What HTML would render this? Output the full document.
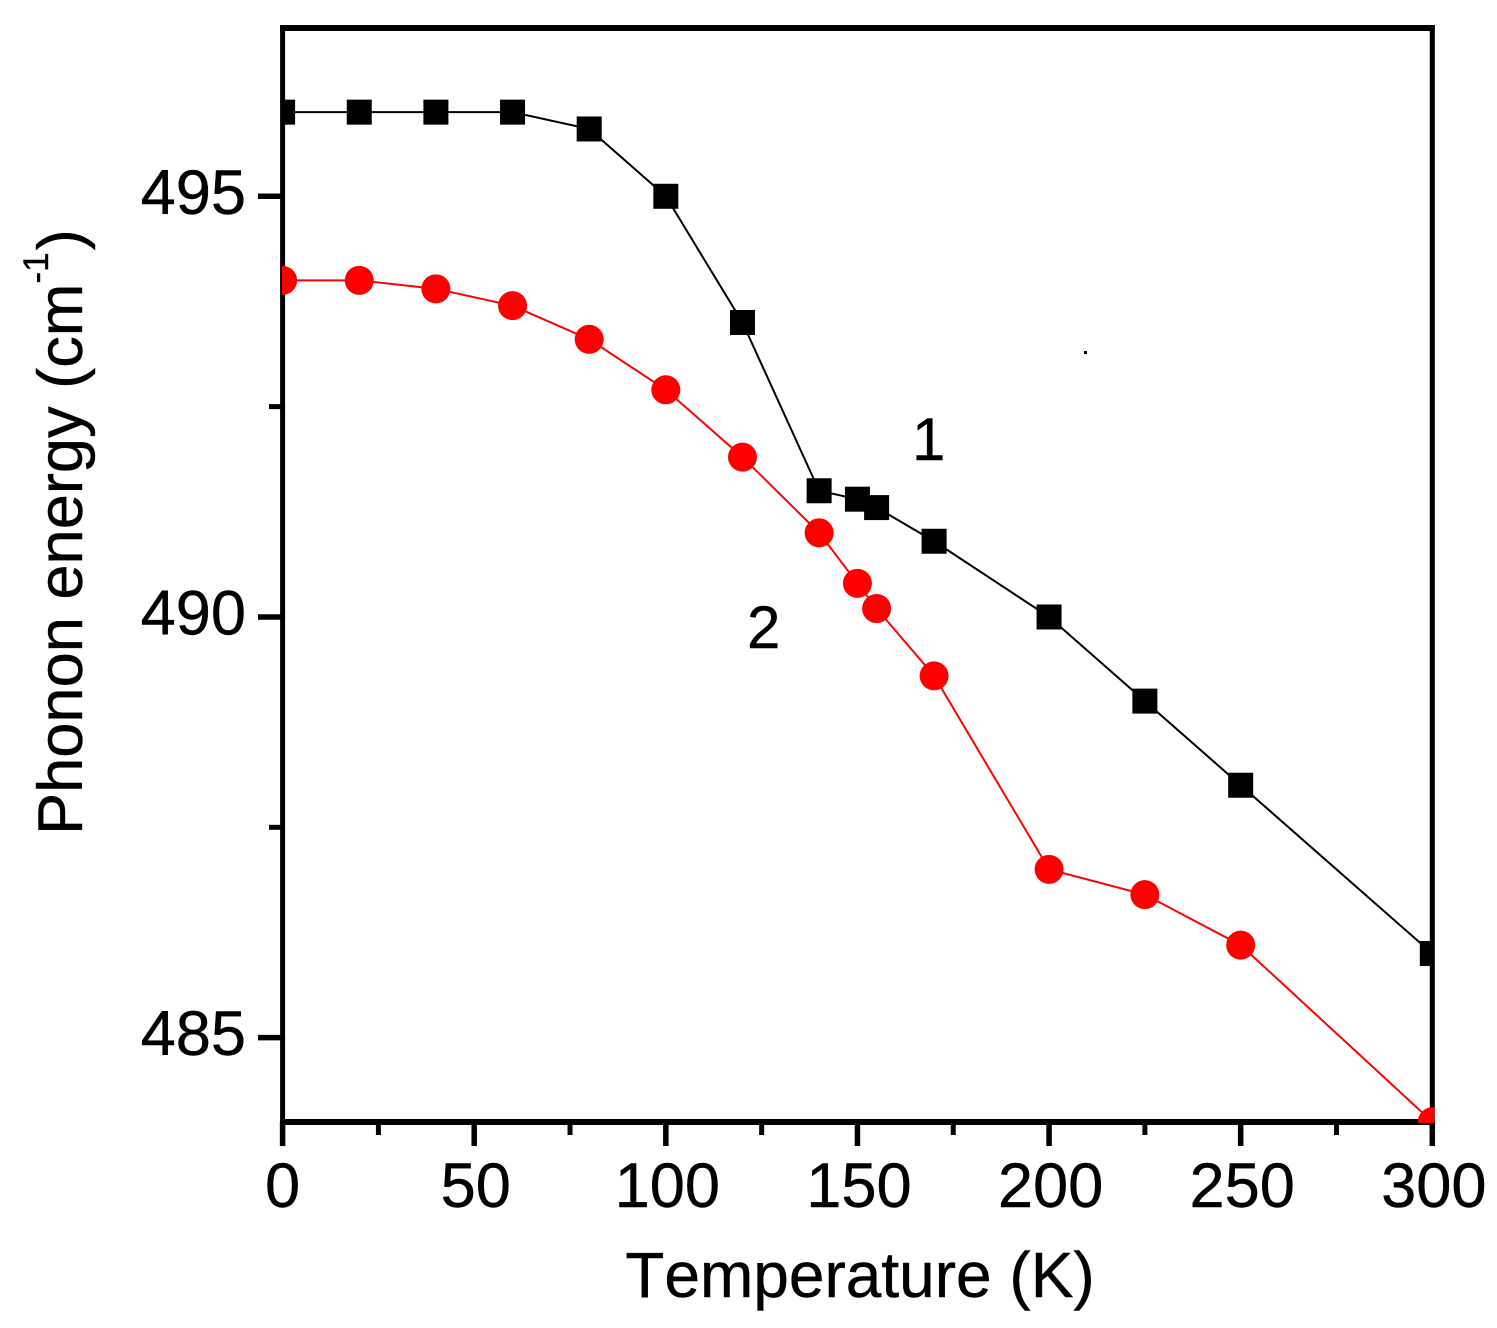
<!DOCTYPE html>
<html lang="en">
<head>
<meta charset="utf-8">
<title>Phonon energy vs Temperature</title>
<style>
html,body{margin:0;padding:0;background:#fff;}
svg{display:block;}
text{font-family:"Liberation Sans",Arial,sans-serif;fill:#000;font-kerning:none;stroke:#000;stroke-width:0.4px;}
</style>
</head>
<body>
<svg id="chart" xmlns="http://www.w3.org/2000/svg" width="1497" height="1328" viewBox="0 0 1497 1328">
  <defs>
    <clipPath id="plot-clip"><rect x="282" y="28" width="1152.5" height="1095"></rect></clipPath>
  </defs>
  <g id="axes"></g>
  <g id="series"></g>
  <text x="912" y="460" font-size="60">1</text>
  <text x="747" y="648" font-size="60">2</text>
  <rect x="1084" y="351" width="3" height="3" fill="#000"></rect>
  <text x="860" y="1297" font-size="64" text-anchor="middle">Temperature (K)</text>
  <text transform="translate(82,835) rotate(-90)" font-size="63.2">Phonon energy (cm<tspan font-size="35" dy="-34">-1</tspan><tspan dy="34" dx="2">)</tspan></text>
</svg>
<script>
const temperatures = [0, 20, 40, 60, 80, 100, 120, 140, 150, 155, 170, 200, 225, 250, 300];
const series1Values = [496, 496, 496, 496, 495.8, 495, 493.5, 491.5, 491.4, 491.3, 490.9, 490, 489, 488, 486];
const series2Values = [494, 494, 493.9, 493.7, 493.3, 492.7, 491.9, 491, 490.4, 490.1, 489.3, 487, 486.7, 486.1, 484];
const xMajorTicks = [0, 50, 100, 150, 200, 250, 300];
const xMinorTicks = [25, 75, 125, 175, 225, 275];
const yMajorTicks = [485, 490, 495];
const yMinorTicks = [487.5, 492.5];

const SVGNS = 'http://www.w3.org/2000/svg';
const xDomain = [0, 300], xRange = [282.6, 1432.3];
const yDomain = [484, 497], yRange = [1121.8, 28];

function xScale(v) {
  return xRange[0] + (v - xDomain[0]) / (xDomain[1] - xDomain[0]) * (xRange[1] - xRange[0]);
}
function yScale(v) {
  return yRange[0] + (v - yDomain[0]) / (yDomain[1] - yDomain[0]) * (yRange[1] - yRange[0]);
}
function make(tag, attrs, parent) {
  const el = document.createElementNS(SVGNS, tag);
  for (const k in attrs) el.setAttribute(k, attrs[k]);
  parent.appendChild(el);
  return el;
}

const axes = document.getElementById('axes');
const seriesGroup = document.getElementById('series');
const left = xScale(xDomain[0]), right = xScale(xDomain[1]);
const top_ = yScale(yDomain[1]), bottom = yScale(yDomain[0]);

// frame
const frameTop = make('line', {x1: left - 2.5, x2: right + 2.5, y1: top_, y2: top_, stroke: '#000', 'stroke-width': 6}, axes);


const frameBottom = make('line', {x1: left - 2.5, x2: right + 2.5, y1: bottom + 0.2, y2: bottom + 0.2, stroke: '#000', 'stroke-width': 6}, axes);


const frameLeft = make('line', {x1: left, x2: left, y1: top_ - 3, y2: bottom, stroke: '#000', 'stroke-width': 5}, axes);


const frameRight = make('line', {x1: right, x2: right, y1: top_ - 3, y2: bottom, stroke: '#000', 'stroke-width': 5}, axes);



// x ticks
xMajorTicks.forEach(function (v) {
  const t = make('line', {x1: xScale(v), x2: xScale(v), y1: bottom, y2: 1146, stroke: '#000', 'stroke-width': 5.5}, axes);
  
  
  const lbl = make('text', {x: xScale(v) + (v === 0 ? 0 : 1.5), y: 1207, 'font-size': 63.2, 'text-anchor': 'middle'}, axes);
  
  
  lbl.textContent = String(v);
});
xMinorTicks.forEach(function (v) {
  const t = make('line', {x1: xScale(v), x2: xScale(v), y1: bottom, y2: 1135, stroke: '#000', 'stroke-width': 5}, axes);
  
  
});

// y ticks
yMajorTicks.forEach(function (v) {
  const t = make('line', {x1: 258, x2: left, y1: yScale(v), y2: yScale(v), stroke: '#000', 'stroke-width': 5.5}, axes);
  
  
  const lbl = make('text', {x: 246, y: yScale(v) + 17.5, 'font-size': 63.2, 'text-anchor': 'end'}, axes);
  
  
  lbl.textContent = String(v);
});
yMinorTicks.forEach(function (v) {
  const t = make('line', {x1: 269, x2: left, y1: yScale(v), y2: yScale(v), stroke: '#000', 'stroke-width': 5}, axes);
  
  
});

// series 1 (black squares)
const g1 = make('g', {'clip-path': 'url(#plot-clip)'}, seriesGroup);


const line1 = make('polyline', {
  points: temperatures.map(function (t, i) { return xScale(t) + ',' + yScale(series1Values[i]); }).join(' '),
  fill: 'none', stroke: '#000', 'stroke-width': 2
}, g1);


temperatures.forEach(function (t, i) {
  const m = make('rect', {x: xScale(t) - 12.5, y: yScale(series1Values[i]) - 12.5, width: 25, height: 25, fill: '#000'}, g1);
  
  
});

// series 2 (red circles)
const g2 = make('g', {'clip-path': 'url(#plot-clip)'}, seriesGroup);


const line2 = make('polyline', {
  points: temperatures.map(function (t, i) { return xScale(t) + ',' + yScale(series2Values[i]); }).join(' '),
  fill: 'none', stroke: '#f00', 'stroke-width': 2
}, g2);


temperatures.forEach(function (t, i) {
  const m = make('circle', {cx: xScale(t), cy: yScale(series2Values[i]), r: 14.5, fill: '#f00'}, g2);
  
  
});
</script>
</body>
</html>
